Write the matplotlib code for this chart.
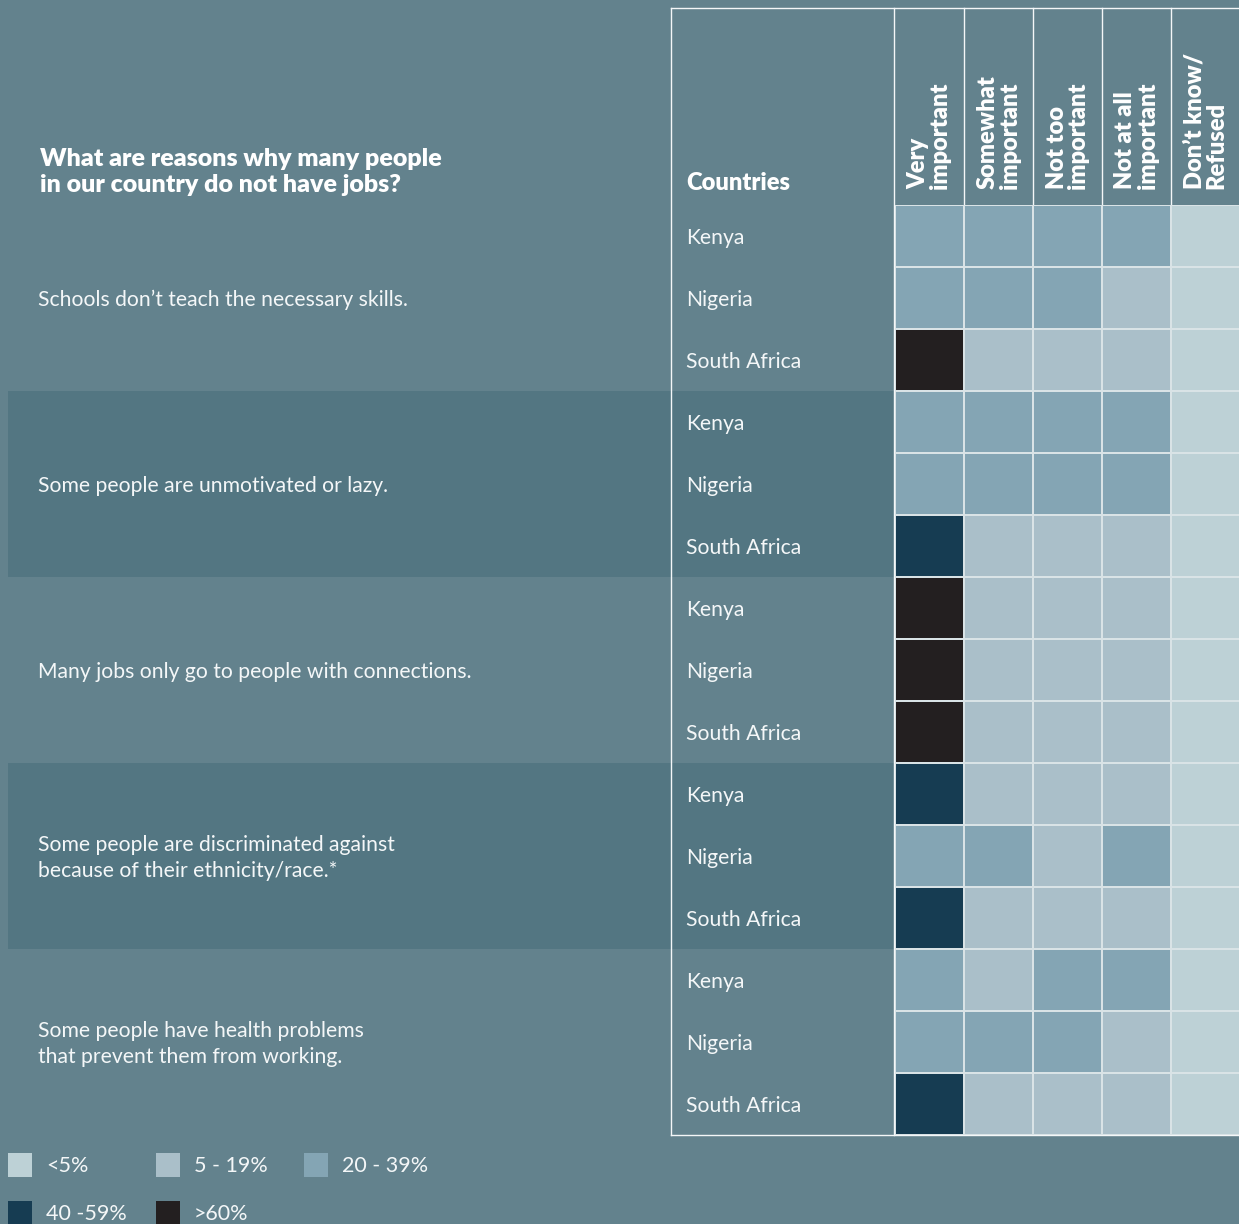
import matplotlib
matplotlib.use("Agg")
import matplotlib.pyplot as plt
import numpy as np
from matplotlib.colors import ListedColormap, BoundaryNorm
from matplotlib.patches import Rectangle

plt.rcParams["font.family"] = ["Lato", "DejaVu Sans"]

# ============================
# Data
# ============================
TITLE = "What are reasons why many people\nin our country do not have jobs?"
QUESTIONS = [
    "Schools don\u2019t teach the necessary skills.",
    "Some people are unmotivated or lazy.",
    "Many jobs only go to people with connections.",
    "Some people are discriminated against\nbecause of their ethnicity/race.*",
    "Some people have health problems\nthat prevent them from working.",
]
COUNTRIES = ["Kenya", "Nigeria", "South Africa"]
RESPONSES = ["Very\nimportant", "Somewhat\nimportant", "Not too\nimportant",
             "Not at all\nimportant", "Don\u2019t know/\nRefused"]
LEVEL_LABELS = ["<5%", "5 - 19%", "20 - 39%", "40 -59%", ">60%"]
LEVEL_COLORS = ["#BDD1D6", "#AABFC9", "#84A5B4", "#163C52", "#231F20"]

# level index per country (Kenya, Nigeria, South Africa) x response
SKILLS = [[2, 2, 2, 2, 0], [2, 2, 2, 1, 0], [4, 1, 1, 1, 0]]
LAZY = [[2, 2, 2, 2, 0], [2, 2, 2, 2, 0], [3, 1, 1, 1, 0]]
CONNECTIONS = [[4, 1, 1, 1, 0], [4, 1, 1, 1, 0], [4, 1, 1, 1, 0]]
DISCRIMINATION = [[3, 1, 1, 1, 0], [2, 2, 1, 2, 0], [3, 1, 1, 1, 0]]
HEALTH = [[2, 1, 2, 2, 0], [2, 2, 2, 1, 0], [3, 1, 1, 1, 0]]

# ============================
# Layout (pixels)
# ============================
W, H = 1239, 1224
BG = "#63828D"
BAND = "#537682"
GRID_X0, GRID_TOP, ROW_H, COL_W = 895, 205, 62, 69
TABLE_X0, TABLE_TOP = 671, 8
WHITE = "#F4F7F8"

levels = np.array(SKILLS + LAZY + CONNECTIONS + DISCRIMINATION + HEALTH)
n_rows, n_cols = levels.shape
grid_bottom = GRID_TOP + n_rows * ROW_H

fig = plt.figure(figsize=(W / 100, H / 100), dpi=100, facecolor=BG)
ax = fig.add_axes([0, 0, 1, 1])
ax.set_xlim(0, W)
ax.set_ylim(H, 0)
ax.axis("off")
ax.set_facecolor(BG)

# darker bands for alternate question groups
for gi in range(len(QUESTIONS)):
    y0 = GRID_TOP + gi * 3 * ROW_H
    if gi % 2 == 1:
        ax.add_patch(Rectangle((8, y0), GRID_X0 - 8, 3 * ROW_H, color=BAND, lw=0))
    ax.text(38, y0 + 1.5 * ROW_H + 2, QUESTIONS[gi], color=WHITE, fontsize=15.2,
            va="center", ha="left", linespacing=1.4)
    for ci, c in enumerate(COUNTRIES):
        ax.text(686, y0 + (ci + 0.5) * ROW_H + 2, c, color=WHITE, fontsize=15.2,
                va="center", ha="left")

# title and column headers
ax.text(40, 172, TITLE, color="white", fontsize=18, fontweight="heavy",
        va="center", ha="left", linespacing=1.17)
ax.text(686, 183, "Countries", color="white", fontsize=17, fontweight="heavy",
        va="center", ha="left")
for j, r in enumerate(RESPONSES):
    ax.text(GRID_X0 + (j + 0.5) * COL_W, 189, r, color="white", fontsize=17,
            fontweight="heavy", rotation=90, ha="center", va="bottom",
            multialignment="left", linespacing=1.0)

# table outline
lw = 1.0
ax.plot([TABLE_X0, W], [TABLE_TOP, TABLE_TOP], color=WHITE, lw=lw)
ax.plot([TABLE_X0, TABLE_X0], [TABLE_TOP, grid_bottom], color=WHITE, lw=lw)
ax.plot([TABLE_X0, W], [grid_bottom, grid_bottom], color=WHITE, lw=lw)
ax.plot([GRID_X0 - 1, GRID_X0 - 1], [TABLE_TOP, grid_bottom], color=WHITE, lw=lw)
for j in range(1, n_cols):
    x = GRID_X0 + j * COL_W
    ax.plot([x, x], [TABLE_TOP, GRID_TOP], color=WHITE, lw=lw)

# heatmap cells
hm = fig.add_axes([GRID_X0 / W, 1 - grid_bottom / H, n_cols * COL_W / W,
                   n_rows * ROW_H / H])
cmap = ListedColormap(LEVEL_COLORS)
norm = BoundaryNorm(np.arange(-0.5, len(LEVEL_COLORS) + 0.5), cmap.N)
hm.pcolormesh(levels, cmap=cmap, norm=norm, edgecolors="#D9E3E6", linewidth=1.4)
hm.set_xlim(0, n_cols)
hm.set_ylim(n_rows, 0)
hm.axis("off")

# legend
leg_x = [8, 156, 304, 8, 156]
leg_y = [1153, 1153, 1153, 1201, 1201]
for k, lab in enumerate(LEVEL_LABELS):
    ax.add_patch(Rectangle((leg_x[k], leg_y[k]), 24, 24, color=LEVEL_COLORS[k], lw=0))
    ax.text(leg_x[k] + 38, leg_y[k] + 13, lab, color=WHITE, fontsize=15.5,
            va="center", ha="left")

fig.savefig("out.png", dpi=100, facecolor=BG)
